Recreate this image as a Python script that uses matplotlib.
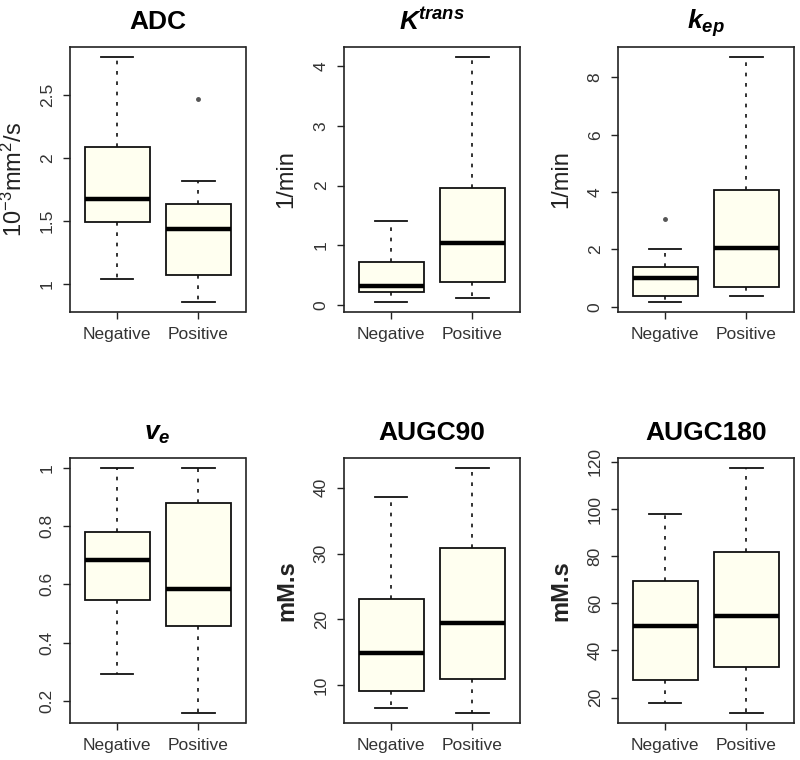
import matplotlib
matplotlib.use("Agg")
import matplotlib.pyplot as plt

plt.rcParams['font.family'] = ['Liberation Sans', 'DejaVu Sans']
plt.rcParams['mathtext.fontset'] = 'custom'
plt.rcParams['mathtext.rm'] = 'Liberation Sans'
plt.rcParams['mathtext.it'] = 'Liberation Sans:italic'
plt.rcParams['mathtext.bf'] = 'Liberation Sans:bold'
plt.rcParams['mathtext.bfit'] = 'Liberation Sans:bold:italic'

# ---------------- data (whislo, q1, median, q3, whishi) ----------------
groups = ["Negative", "Positive"]

adc_neg = [1.04, 1.49, 1.675, 2.085, 2.80]
adc_pos = [0.86, 1.07, 1.437, 1.63, 1.82]
adc_pos_out = [2.466]

ktrans_neg = [0.055, 0.21, 0.31, 0.715, 1.414]
ktrans_pos = [0.11, 0.39, 1.04, 1.957, 4.155]

kep_neg = [0.175, 0.385, 1.01, 1.375, 2.02]
kep_neg_out = [3.05]
kep_pos = [0.374, 0.70, 2.06, 4.06, 8.72]

ve_neg = [0.292, 0.546, 0.683, 0.78, 1.0]
ve_pos = [0.16, 0.456, 0.583, 0.88, 1.0]

augc90_neg = [6.54, 9.14, 14.93, 23.15, 38.58]
augc90_pos = [5.78, 10.86, 19.44, 30.9, 43.05]

augc180_neg = [17.9, 27.5, 50.3, 69.6, 97.9]
augc180_pos = [13.6, 33.1, 54.6, 81.7, 117.5]

titles = ["ADC", r"$\mathbfit{K^{trans}}$", r"$\mathbfit{k_{ep}}$",
          r"$\mathbfit{v_e}$", "AUGC90", "AUGC180"]
ylabels = [r"$10^{-3}\mathrm{mm}^2\mathrm{/s}$", "1/min", "1/min", "", "mM.s", "mM.s"]
ylabel_x = [-0.245, -0.265, -0.26, 0, -0.26, -0.26]
yticks = [[1, 1.5, 2, 2.5], [0, 1, 2, 3, 4], [0, 2, 4, 6, 8],
          [0.2, 0.4, 0.6, 0.8, 1.0], [10, 20, 30, 40], [20, 40, 60, 80, 100, 120]]
yticklabels = [["1", "1.5", "2", "2.5"], ["0", "1", "2", "3", "4"],
               ["0", "2", "4", "6", "8"], ["0.2", "0.4", "0.6", "0.8", "1"],
               ["10", "20", "30", "40"], ["20", "40", "60", "80", "100", "120"]]

panels = [
    (adc_neg, [], adc_pos, adc_pos_out),
    (ktrans_neg, [], ktrans_pos, []),
    (kep_neg, kep_neg_out, kep_pos, []),
    (ve_neg, [], ve_pos, []),
    (augc90_neg, [], augc90_pos, []),
    (augc180_neg, [], augc180_pos, []),
]

W, H = 800, 760
fig = plt.figure(figsize=(8, 7.6), dpi=100)

lefts = [70, 344, 618]
aw = 175.5
tops = [47, 458]
ah = 264.5

text_col = '#333333'
fill_col = '#FFFFF0'

for i, (neg, neg_out, pos, pos_out) in enumerate(panels):
    r, c = divmod(i, 3)
    L = lefts[c]
    T = tops[r]
    ax = fig.add_axes([L / W, 1 - (T + ah) / H, aw / W, ah / H])

    stats = []
    for lab, s, out in [(groups[0], neg, neg_out), (groups[1], pos, pos_out)]:
        stats.append(dict(label=lab, whislo=s[0], q1=s[1], med=s[2],
                          q3=s[3], whishi=s[4], fliers=out))

    ax.bxp(stats, positions=[1, 2], widths=0.8, patch_artist=True,
           showfliers=True,
           boxprops=dict(facecolor=fill_col, edgecolor='#111111', linewidth=1.3),
           medianprops=dict(color='black', linewidth=3.2, solid_capstyle='butt'),
           whiskerprops=dict(color='#111111', linewidth=1.2, linestyle=(0, (2.2, 4.0))),
           capprops=dict(color='#111111', linewidth=1.3),
           capwidths=0.4,
           flierprops=dict(marker='o', markersize=2.5, markerfacecolor='#555555',
                           markeredgecolor='#555555'))

    # R-like limits with 4% expansion
    lo = min([neg[0], pos[0]] + neg_out + pos_out)
    hi = max([neg[4], pos[4]] + neg_out + pos_out)
    ext = 0.04 * (hi - lo)
    ax.set_ylim(lo - ext, hi + ext)
    ax.set_xlim(0.5 - 0.08, 2.5 + 0.08)

    ax.set_yticks(yticks[i])
    ax.set_yticklabels(yticklabels[i], rotation=90, va='center')
    ax.set_xticks([1, 2])
    ax.set_xticklabels(groups)
    ax.tick_params(axis='both', direction='out', length=5, width=1.0,
                   colors='#222222', labelcolor=text_col, labelsize=12.5, pad=6)
    for sp in ax.spines.values():
        sp.set_linewidth(1.2)
        sp.set_color('#222222')

    ax.set_title(titles[i], fontsize=19, fontweight='bold', pad=13, color='black')
    if ylabels[i]:
        weight = 'bold' if ylabels[i] == "mM.s" else 'normal'
        ax.set_ylabel(ylabels[i], fontsize=17, fontweight=weight, color='#222222')
        ax.yaxis.set_label_coords(ylabel_x[i], 0.5)

fig.savefig("out.png", dpi=100, facecolor='white')
